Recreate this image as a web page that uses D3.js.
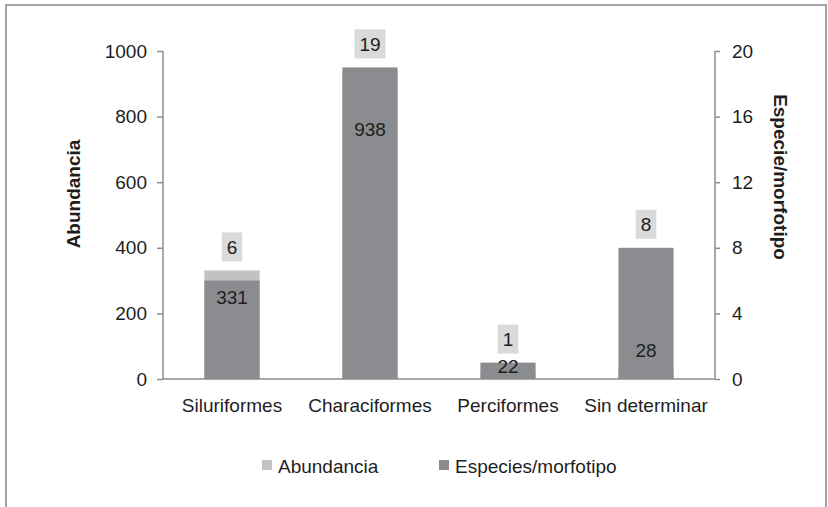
<!DOCTYPE html>
<html>
<head>
<meta charset="utf-8">
<script src="https://cdn.jsdelivr.net/npm/d3@7"></script>
<style>
  body { margin: 0; background: #fff; }
  text { font-family: "Liberation Sans", Arial, sans-serif; fill: #1e1e1e; }
</style>
</head>
<body>
<div id="chart"></div>
<script>
var categories = ['Siluriformes', 'Characiformes', 'Perciformes', 'Sin determinar'];
var abundancia = [331, 938, 22, 28];
var especies = [6, 19, 1, 8];
// where the abundance labels sit, in abundance units (placed by hand in the original)
var abundLabelAt = [250, 760, 40, 86];
var leftTicks = [0, 200, 400, 600, 800, 1000];
var rightTicks = [0, 4, 8, 12, 16, 20];

var width = 828;
var height = 507;
var plotLeft = 163, plotRight = 715, plotTop = 51, plotBottom = 379;

var lightGrey = '#c1c2c4';
var darkGrey = '#8b8c90';
var axisGrey = '#8c8c8c';

var svg = d3.select('#chart')
    .append('svg')
    .attr('width', width)
    .attr('height', height);

// outer frame
svg.append('rect')
    .attr('x', 6).attr('y', 5)
    .attr('width', 820).attr('height', 510)
    .attr('fill', 'none')
    .attr('stroke', '#a3a3a3')
    .attr('stroke-width', 2);

var x = d3.scaleBand()
    .domain(categories)
    .range([plotLeft, plotRight])
    .paddingInner(0.6)
    .paddingOuter(0.3);

var yLeft = d3.scaleLinear().domain([0, 1000]).range([plotBottom, plotTop]);
var yRight = d3.scaleLinear().domain([0, 20]).range([plotBottom, plotTop]);

// bars: abundance behind, species in front
svg.selectAll('.abund')
    .data(categories)
    .enter()
    .append('rect')
    .attr('class', 'abund')
    .attr('x', d => x(d))
    .attr('width', x.bandwidth())
    .attr('y', (d, i) => yLeft(abundancia[i]))
    .attr('height', (d, i) => plotBottom - yLeft(abundancia[i]))
    .attr('fill', lightGrey);

svg.selectAll('.spec')
    .data(categories)
    .enter()
    .append('rect')
    .attr('class', 'spec')
    .attr('x', d => x(d))
    .attr('width', x.bandwidth())
    .attr('y', (d, i) => yRight(especies[i]))
    .attr('height', (d, i) => plotBottom - yRight(especies[i]))
    .attr('fill', darkGrey);

// axes
var leftAxis = d3.axisLeft(yLeft).tickValues(leftTicks).tickFormat(d3.format('d')).tickSize(6).tickPadding(10);
var rightAxis = d3.axisRight(yRight).tickValues(rightTicks).tickFormat(d3.format('d')).tickSize(5).tickPadding(12);

function styleAxis(g) {
    g.select('.domain').attr('stroke', axisGrey).attr('stroke-width', 1.5);
    g.selectAll('.tick line').attr('stroke', axisGrey).attr('stroke-width', 1.5);
    g.selectAll('.tick text')
        .attr('font-family', '"Liberation Sans", Arial, sans-serif')
        .attr('font-size', 19)
        .attr('fill', '#1e1e1e');
}

svg.append('g')
    .attr('transform', `translate(${plotLeft},0)`)
    .call(leftAxis)
    .call(g => g.select('.domain').attr('d', `M0,${plotTop}V${plotBottom}`))
    .call(styleAxis);

svg.append('g')
    .attr('transform', `translate(${plotRight},0)`)
    .call(rightAxis)
    .call(g => g.select('.domain').attr('d', `M0,${plotTop}V${plotBottom}`))
    .call(styleAxis);

// baseline
svg.append('line')
    .attr('x1', plotLeft).attr('x2', plotRight)
    .attr('y1', plotBottom).attr('y2', plotBottom)
    .attr('stroke', axisGrey)
    .attr('stroke-width', 1.5);

// category labels
svg.selectAll('.cat')
    .data(categories)
    .enter()
    .append('text')
    .attr('class', 'cat')
    .attr('x', d => x(d) + x.bandwidth() / 2)
    .attr('y', 412)
    .attr('text-anchor', 'middle')
    .attr('font-size', 19)
    .text(d => d);

// abundance value labels
svg.selectAll('.abundLabel')
    .data(categories)
    .enter()
    .append('text')
    .attr('class', 'abundLabel')
    .attr('x', d => x(d) + x.bandwidth() / 2)
    .attr('y', (d, i) => yLeft(abundLabelAt[i]))
    .attr('dy', '0.35em')
    .attr('text-anchor', 'middle')
    .attr('font-size', 19)
    .text((d, i) => abundancia[i]);

// species value labels in grey boxes
var specLabels = svg.selectAll('.specLabel')
    .data(categories)
    .enter()
    .append('g')
    .attr('class', 'specLabel')
    .attr('transform', (d, i) => {
        var barTop = Math.min(yLeft(abundancia[i]), yRight(especies[i]));
        return `translate(${x(d) + x.bandwidth() / 2},${barTop - 9 - 14.5})`;
    });

specLabels.append('rect')
    .attr('fill', '#dadada');

specLabels.append('text')
    .attr('text-anchor', 'middle')
    .attr('dy', '0.35em')
    .attr('font-size', 19)
    .text((d, i) => especies[i]);

specLabels.each(function() {
    var g = d3.select(this);
    var w = g.select('text').node().getComputedTextLength() + 10;
    g.select('rect')
        .attr('x', -w / 2).attr('y', -14.5)
        .attr('width', w).attr('height', 29);
});

// axis titles
svg.append('text')
    .attr('transform', 'translate(73,194) rotate(-90)')
    .attr('dy', '0.35em')
    .attr('text-anchor', 'middle')
    .attr('font-size', 19)
    .attr('font-weight', 'bold')
    .text('Abundancia');

svg.append('text')
    .attr('transform', 'translate(781,177) rotate(90)')
    .attr('dy', '0.35em')
    .attr('text-anchor', 'middle')
    .attr('font-size', 19)
    .attr('font-weight', 'bold')
    .text('Especie/morfotipo');

// legend
var legend = [
    { name: 'Abundancia', color: lightGrey, x: 262 },
    { name: 'Especies/morfotipo', color: darkGrey, x: 439 }
];

var leg = svg.selectAll('.legend')
    .data(legend)
    .enter()
    .append('g')
    .attr('class', 'legend')
    .attr('transform', d => `translate(${d.x},460)`);

leg.append('rect')
    .attr('width', 10).attr('height', 10)
    .attr('fill', d => d.color);

leg.append('text')
    .attr('x', 16)
    .attr('y', 13)
    .attr('font-size', 19)
    .text(d => d.name);
</script>
</body>
</html>
